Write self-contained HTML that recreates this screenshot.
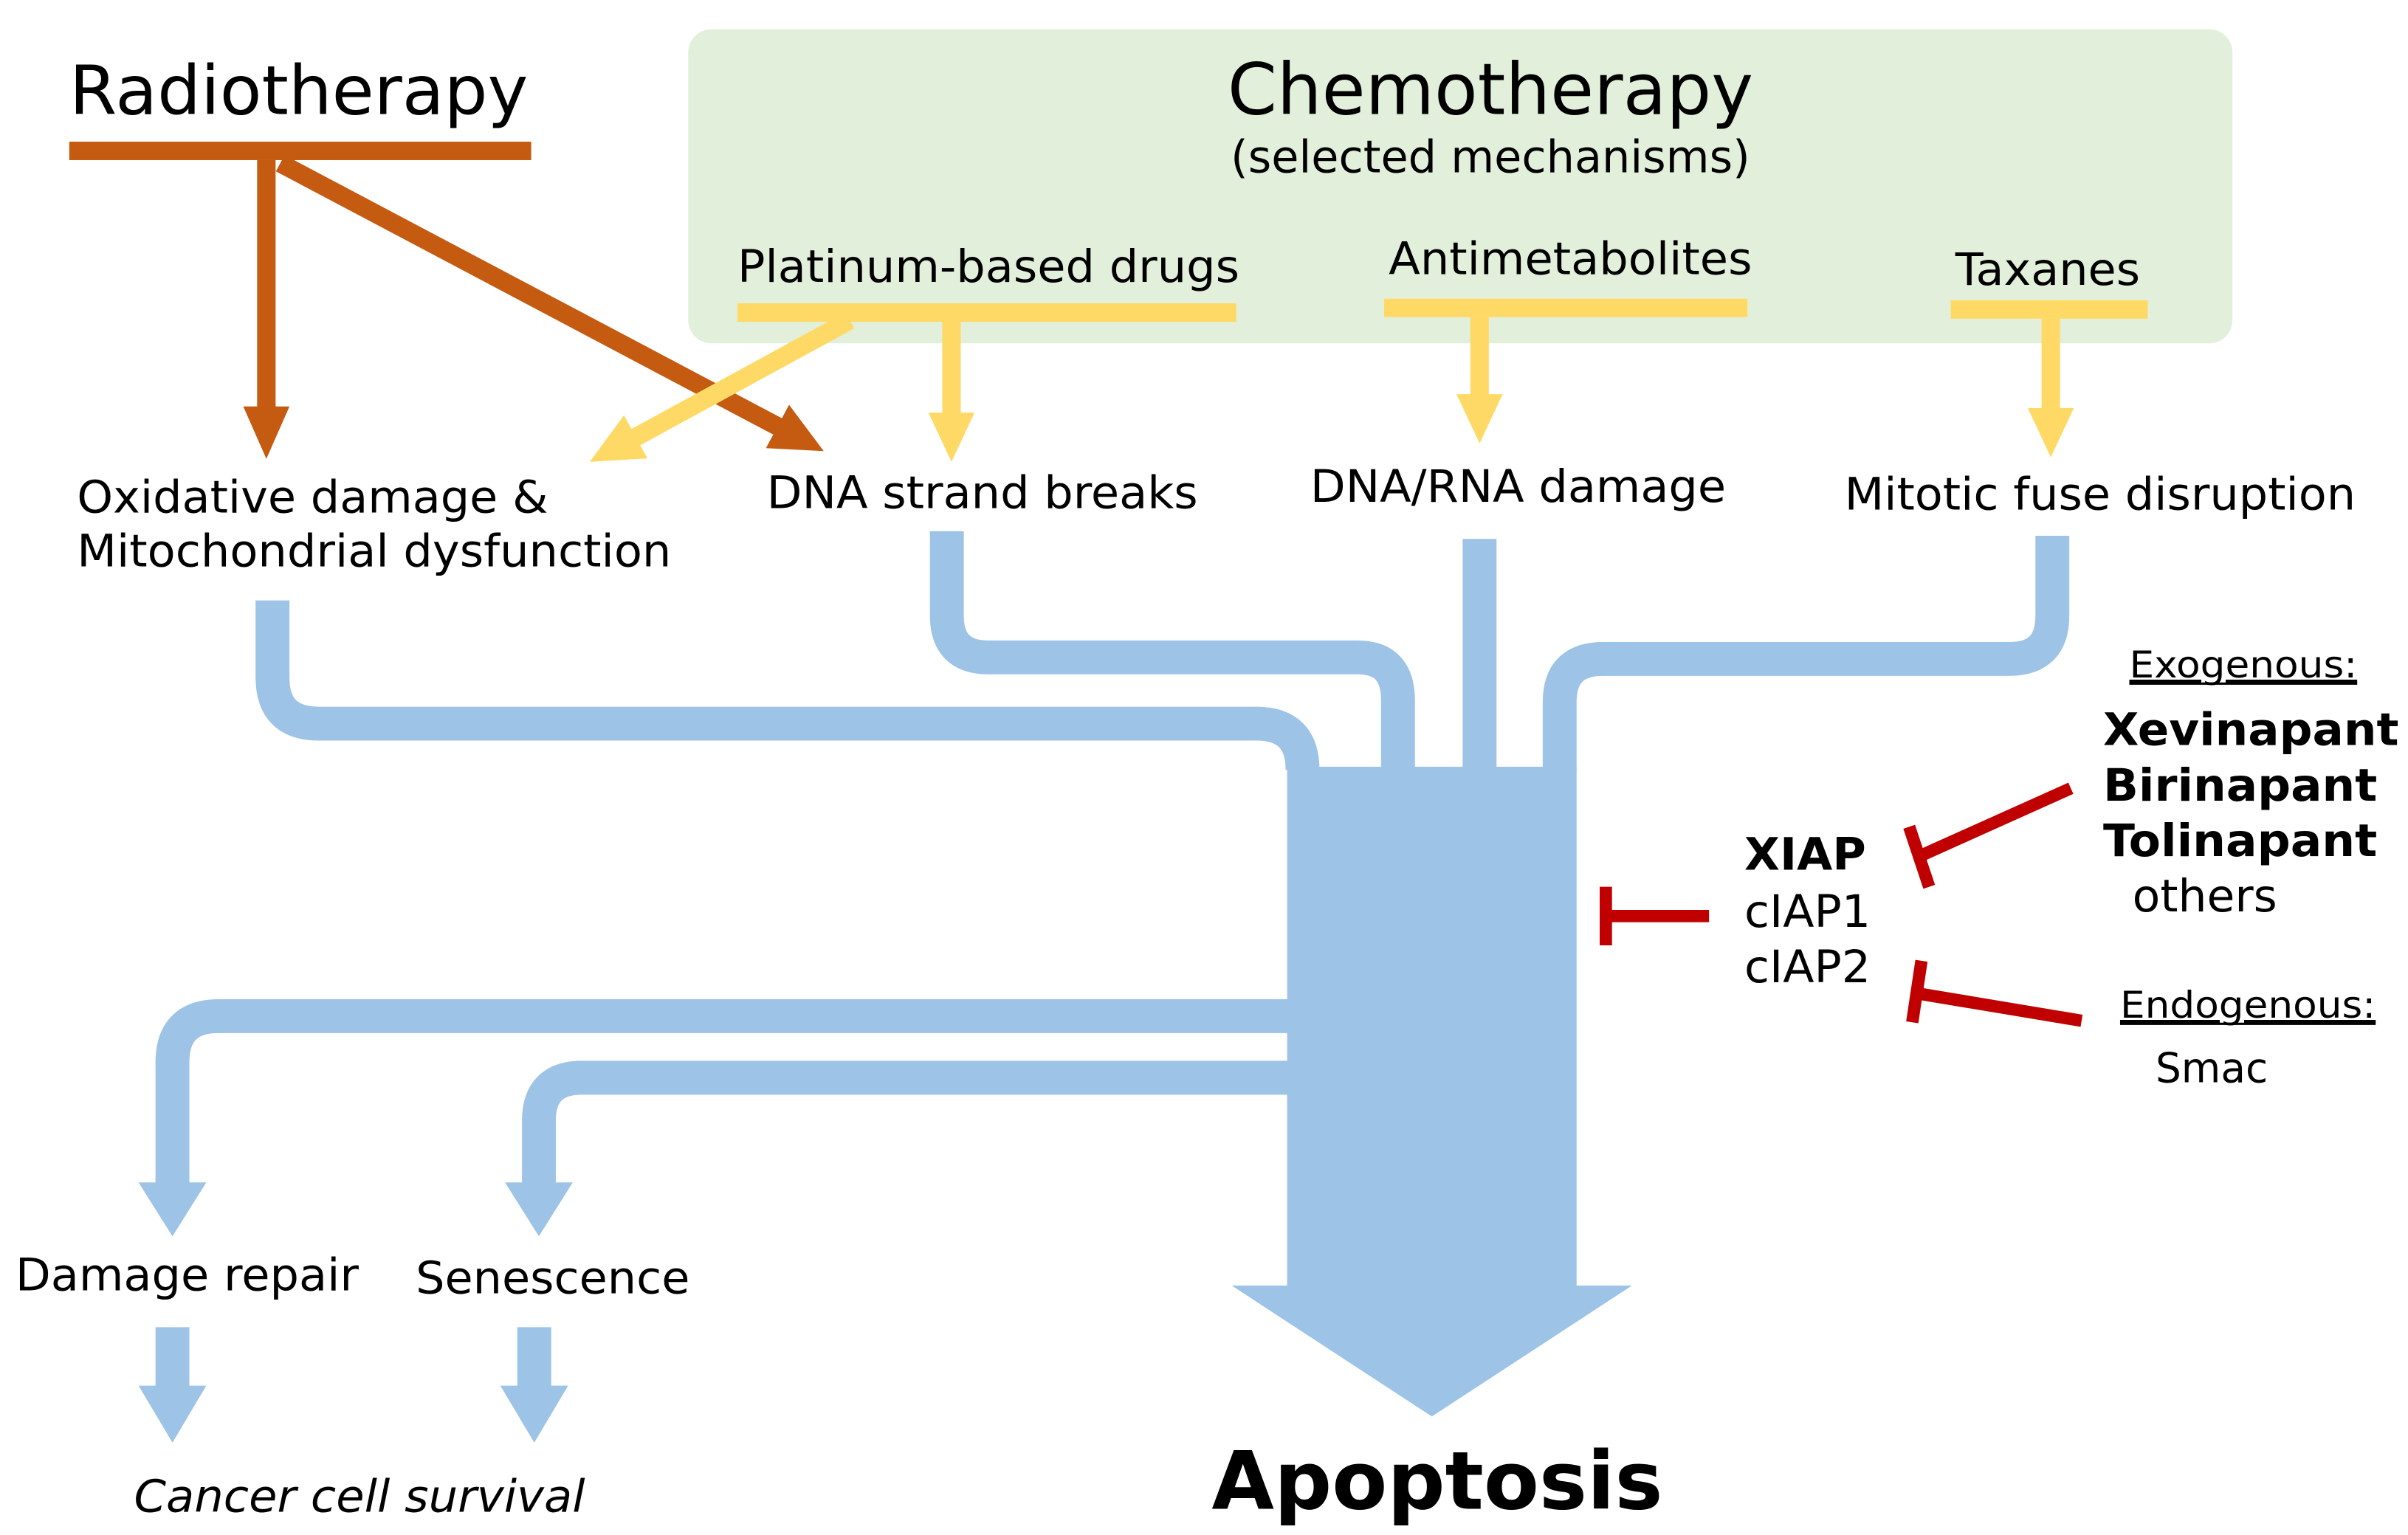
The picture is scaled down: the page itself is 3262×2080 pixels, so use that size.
<!DOCTYPE html>
<html><head><meta charset="utf-8"><style>
html,body{margin:0;padding:0;background:#fff;width:3262px;height:2080px;overflow:hidden}
svg{display:block}
text{font-family:"DejaVu Sans","Liberation Sans",sans-serif;fill:#000}
</style></head><body>
<svg width="3262" height="2080" viewBox="0 0 1564 997" preserveAspectRatio="none" xmlns="http://www.w3.org/2000/svg">
<rect x="447" y="19" width="1003" height="204" rx="15" fill="#e2efda"/>
<g fill="none" stroke="#9dc3e6" stroke-width="22">
<path d="M177 390 V440 Q177 470 207 470 H816 Q846 470 846 500"/>
<path d="M615 345 V400 Q615 427 642 427 H882 Q908 427 908 455 V500"/>
<path d="M961 350 V500"/>
<path d="M1333 348 V400 Q1333 428 1305 428 H1041 Q1013 428 1013 456 V500"/>
<path d="M838 660 H142 Q112 660 112 690 V772"/>
<path d="M838 700 H378 Q350 700 350 728 V772"/>
</g>
<g fill="#9dc3e6">
<rect x="836" y="498" width="188" height="338"/>
<polygon points="800,835 1060,835 930,920"/>
<polygon points="90,768 134,768 112,803"/>
<polygon points="328,768 372,768 350,803"/>
<polygon points="101,862 123,862 123,900 134,900 112,937 90,900 101,900"/>
<polygon points="336,862 358,862 358,900 369,900 347,937 325,900 336,900"/>
</g>
<g fill="#c55a11">
<rect x="45" y="92" width="300" height="12"/>
<rect x="167" y="104" width="12" height="162"/>
<polygon points="158,264 188,264 173,298"/>
<polygon points="497.5,291.1 512.5,262.9 535,293"/>
</g>
<line x1="182" y1="106" x2="507" y2="278" stroke="#c55a11" stroke-width="12"/>
<g fill="#ffd966">
<rect x="479" y="197" width="324" height="12"/>
<rect x="899" y="194" width="236" height="12"/>
<rect x="1267" y="195" width="128" height="12"/>
<rect x="612" y="209" width="12" height="60"/>
<polygon points="603,268 633,268 618,300"/>
<rect x="955" y="206" width="12" height="52"/>
<polygon points="946,256 976,256 961,288"/>
<rect x="1326" y="207" width="12" height="60"/>
<polygon points="1317,265 1347,265 1332,297"/>
<polygon points="405.3,269.7 420.5,297.7 383,300"/>
</g>
<line x1="552" y1="208" x2="411" y2="285" stroke="#ffd966" stroke-width="12"/>
<g stroke="#c00000" stroke-width="8" fill="none">
<line x1="1043" y1="595" x2="1110" y2="595"/>
<line x1="1043" y1="576" x2="1043" y2="614"/>
<line x1="1345" y1="512" x2="1247" y2="556"/>
<line x1="1240" y1="537" x2="1253" y2="576"/>
<line x1="1352" y1="663" x2="1244" y2="645"/>
<line x1="1248" y1="624" x2="1242" y2="664"/>
</g>
<text x="45" y="74" font-size="44" textLength="298" lengthAdjust="spacingAndGlyphs">Radiotherapy</text>
<text x="968" y="74" font-size="46" text-anchor="middle">Chemotherapy</text>
<text x="968" y="112" font-size="29" text-anchor="middle">(selected mechanisms)</text>
<text x="479" y="183" font-size="29" textLength="326" lengthAdjust="spacingAndGlyphs">Platinum-based drugs</text>
<text x="902" y="178" font-size="29" textLength="236" lengthAdjust="spacingAndGlyphs">Antimetabolites</text>
<text x="1270" y="185" font-size="29" textLength="120" lengthAdjust="spacingAndGlyphs">Taxanes</text>
<text x="50" y="333" font-size="29" textLength="306" lengthAdjust="spacingAndGlyphs">Oxidative damage &amp;</text>
<text x="50" y="368" font-size="29" textLength="386" lengthAdjust="spacingAndGlyphs">Mitochondrial dysfunction</text>
<text x="498" y="330" font-size="29" textLength="280" lengthAdjust="spacingAndGlyphs">DNA strand breaks</text>
<text x="851" y="326" font-size="29" textLength="270" lengthAdjust="spacingAndGlyphs">DNA/RNA damage</text>
<text x="1198" y="331" font-size="29" textLength="332" lengthAdjust="spacingAndGlyphs">Mitotic fuse disruption</text>
<text x="10" y="838" font-size="29" textLength="223" lengthAdjust="spacingAndGlyphs">Damage repair</text>
<text x="270" y="840" font-size="29" textLength="178" lengthAdjust="spacingAndGlyphs">Senescence</text>
<text x="87" y="982" font-size="29" font-style="italic" textLength="293" lengthAdjust="spacingAndGlyphs">Cancer cell survival</text>
<text x="787" y="980" font-size="52" font-weight="bold" textLength="293" lengthAdjust="spacingAndGlyphs">Apoptosis</text>
<text x="1133" y="565" font-size="29" font-weight="bold" textLength="79" lengthAdjust="spacingAndGlyphs">XIAP</text>
<text x="1133" y="602" font-size="29" textLength="82" lengthAdjust="spacingAndGlyphs">cIAP1</text>
<text x="1133" y="638" font-size="29" textLength="82" lengthAdjust="spacingAndGlyphs">cIAP2</text>
<text x="1383" y="440" font-size="24" text-decoration="underline" textLength="148" lengthAdjust="spacingAndGlyphs">Exogenous:</text>
<text x="1366" y="484" font-size="29" font-weight="bold" textLength="192" lengthAdjust="spacingAndGlyphs">Xevinapant</text>
<text x="1366" y="520" font-size="29" font-weight="bold" textLength="178" lengthAdjust="spacingAndGlyphs">Birinapant</text>
<text x="1366" y="556" font-size="29" font-weight="bold" textLength="178" lengthAdjust="spacingAndGlyphs">Tolinapant</text>
<text x="1385" y="592" font-size="29" textLength="94" lengthAdjust="spacingAndGlyphs">others</text>
<text x="1377" y="661" font-size="24" text-decoration="underline" textLength="166" lengthAdjust="spacingAndGlyphs">Endogenous:</text>
<text x="1400" y="703" font-size="27" textLength="73" lengthAdjust="spacingAndGlyphs">Smac</text>
<line x1="1383" y1="444" x2="1531" y2="444" stroke="#000" stroke-width="1.5"/>
<line x1="1377" y1="665" x2="1543" y2="665" stroke="#000" stroke-width="1.5"/>
</svg>
</body></html>
